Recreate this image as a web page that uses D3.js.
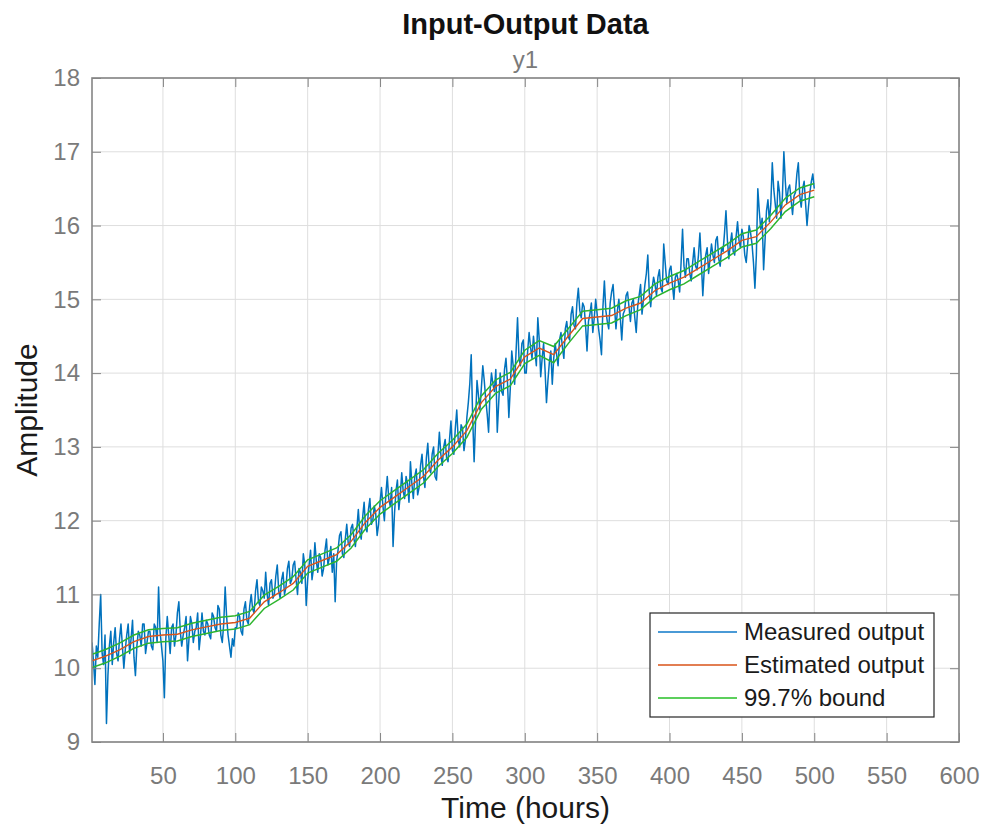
<!DOCTYPE html>
<html>
<head>
<meta charset="utf-8">
<script src="https://cdn.jsdelivr.net/npm/d3@7"></script>
<style>
  html, body { margin: 0; padding: 0; background: #fff; }
  svg { display: block; font-family: "Liberation Sans", Arial, Helvetica, sans-serif; }
</style>
</head>
<body>
<svg id="chart" width="985" height="830"></svg>
<script>
// ---------------- DATA ----------------
const titleText = "Input-Output Data";
const subtitleText = "y1";
const xLabelText = "Time (hours)";
const yLabelText = "Amplitude";
const xTicks = [50, 100, 150, 200, 250, 300, 350, 400, 450, 500, 550, 600];
const yTicks = [9, 10, 11, 12, 13, 14, 15, 16, 17, 18];
const xDomain = [1, 600];
const yDomain = [9, 18];

// Measured output, one sample per hour, t = 1 ... 500
const measuredStart = 1;
const measuredStep = 1;
const measured = [
  10.35, 10.1, 9.78, 10.3, 10.15, 10.6, 11.0, 10.2, 10.05, 10.45, 9.25, 9.9, 10.3, 10.5, 10.05, 10.35, 10.55, 10.2, 10.1, 10.4,
  10.6, 10.3, 10.0, 10.25, 10.45, 10.6, 10.2, 10.4, 10.65, 10.15, 9.9, 10.3, 10.5, 10.45, 10.3, 10.6, 10.6, 10.2, 10.35, 10.5,
  10.5, 10.3, 10.25, 10.6, 10.55, 10.35, 11.1, 10.5, 10.3, 10.1, 9.6, 10.4, 10.7, 10.45, 10.2, 10.55, 10.6, 10.3, 10.45, 10.75,
  10.9, 10.5, 10.3, 10.45, 10.55, 10.7, 10.1, 10.4, 10.7, 10.6, 10.35, 10.5, 10.55, 10.75, 10.25, 10.45, 10.75, 10.5, 10.45, 10.65,
  10.6, 10.45, 10.4, 10.75, 10.7, 10.55, 10.5, 10.85, 10.8, 10.45, 10.35, 10.6, 11.1, 10.7, 10.45, 10.3, 10.15, 10.4, 10.3, 10.55,
  10.55, 10.75, 10.7, 10.5, 10.45, 10.8, 10.9, 10.65, 10.6, 10.85, 11.0, 10.8, 10.75, 11.05, 11.2, 10.9, 10.85, 11.1, 11.05, 10.95,
  11.3, 11.0, 10.85, 11.15, 11.2, 10.95, 11.0, 11.25, 11.4, 11.05, 10.95, 11.2, 11.3, 11.0, 11.1, 11.35, 11.45, 11.15, 11.2, 11.4,
  11.45, 11.2, 11.0, 11.35, 11.3, 11.15, 11.55, 11.4, 10.85, 11.2, 11.4, 11.6, 11.2, 11.35, 11.7, 11.45, 11.3, 11.55, 11.5, 11.25,
  11.35, 11.6, 11.75, 11.4, 11.5, 11.65, 11.3, 11.55, 10.9, 11.45, 11.6, 11.8, 11.85, 11.55, 11.5, 11.75, 11.95, 11.7, 11.65, 11.9,
  11.95, 11.75, 11.65, 11.9, 12.15, 11.85, 11.75, 12.05, 12.25, 11.9, 11.85, 12.15, 12.3, 11.95, 12.0, 12.2, 12.1, 11.8, 11.95, 12.25,
  12.45, 12.2, 12.0, 12.35, 12.6, 12.3, 12.2, 12.45, 11.65, 12.1, 12.4, 12.55, 12.15, 12.35, 12.65, 12.4, 12.3, 12.6, 12.5, 12.25,
  12.8, 12.5, 12.3, 12.6, 12.7, 12.35, 12.45, 12.75, 12.9, 12.6, 12.45, 12.85, 13.05, 12.7, 12.65, 12.9, 13.0, 12.6, 12.55, 12.9,
  13.2, 12.9, 12.75, 13.0, 13.1, 12.85, 12.8, 13.1, 13.35, 12.95, 12.9, 13.25, 13.5, 13.1, 13.0, 13.3, 13.25, 12.95, 13.1, 13.4,
  13.6, 13.85, 14.25, 13.4, 12.8, 13.35, 13.9, 13.7, 13.5, 13.8, 14.1, 13.9, 13.65, 13.45, 13.2, 13.75, 14.0, 13.85, 13.75, 14.05,
  13.2, 13.6, 14.0, 13.75, 13.7, 14.05, 14.2, 13.9, 13.4, 13.8, 14.3, 14.1, 13.85, 14.3, 14.75, 14.2, 14.1, 14.4, 14.45, 14.0,
  14.0, 14.3, 14.55, 14.35, 14.2, 14.5, 14.3, 14.1, 14.75, 14.45, 13.95, 14.2, 14.4, 14.05, 13.6, 13.9, 14.15, 14.3, 13.85, 14.2,
  14.4, 14.25, 14.1, 14.45, 14.55, 14.35, 14.2, 14.6, 14.7, 14.5, 14.45, 14.8, 14.9, 14.65, 14.6, 14.95, 15.15, 14.85, 14.75, 14.95,
  14.9, 14.65, 14.3, 14.7, 14.8, 14.95, 14.55, 14.75, 15.0, 14.8, 14.6, 14.45, 14.25, 14.9, 15.25, 14.85, 14.7, 14.6, 14.95, 15.1,
  15.2, 14.9, 14.6, 14.85, 15.0, 14.75, 14.45, 14.8, 14.85, 15.05, 15.1, 14.9, 14.7, 14.95, 15.0, 14.75, 14.55, 14.9, 15.05, 15.2,
  14.8, 15.0, 15.2, 15.35, 15.6, 15.1, 14.9, 15.15, 15.3, 15.2, 15.05, 15.3, 15.4, 15.15, 15.1, 15.75, 15.5, 15.25, 15.2, 15.4,
  15.45, 15.2, 15.0, 15.3, 15.35, 15.25, 15.1, 15.5, 15.95, 15.45, 15.3, 15.55, 15.55, 15.35, 15.25, 15.5, 15.7, 15.45, 15.4, 15.6,
  15.9, 15.5, 15.05, 15.4, 15.6, 15.7, 15.35, 15.55, 15.75, 15.6, 15.5, 15.8, 15.85, 15.55, 15.45, 15.7, 15.65, 15.9, 16.2, 15.8,
  15.55, 15.75, 15.9, 15.65, 15.6, 15.85, 16.05, 15.8, 15.7, 15.95, 15.85, 15.6, 15.5, 15.75, 16.0, 15.9, 15.75, 15.5, 15.15, 15.6,
  16.5, 16.2, 15.95, 16.1, 15.4, 15.8, 16.2, 16.35, 16.05, 16.3, 16.85, 16.5, 16.3, 16.1, 16.6, 16.45, 16.1, 16.4, 17.0, 16.6,
  16.3, 16.5, 16.55, 16.35, 16.15, 16.4, 16.45, 16.7, 16.85, 16.4, 16.25, 16.5, 16.6, 16.3, 16.0, 16.25, 16.45, 16.6, 16.7, 16.5
];

// Estimated output and 99.7% bounds
const estTimes = [1, 10, 20, 30, 40, 50, 60, 70, 80, 90, 100, 110, 120, 130, 140, 150, 160, 170, 180, 190,
  200, 210, 220, 230, 240, 250, 260, 270, 280, 290, 300, 310, 320, 330, 340, 350, 360, 370, 380, 390,
  400, 410, 420, 430, 440, 450, 460, 470, 480, 490, 500];
const estimated = [10.10, 10.16, 10.25, 10.36, 10.43, 10.45, 10.46, 10.52, 10.56, 10.60, 10.62, 10.68, 10.90, 11.02, 11.15, 11.38, 11.46, 11.54, 11.72, 11.98,
  12.18, 12.32, 12.46, 12.60, 12.82, 13.00, 13.22, 13.60, 13.82, 13.92, 14.22, 14.34, 14.25, 14.50, 14.74, 14.76, 14.78, 14.88, 14.95, 15.12,
  15.22, 15.30, 15.42, 15.54, 15.66, 15.80, 15.85, 16.05, 16.28, 16.42, 16.48];
const upperBound = [10.19, 10.25, 10.34, 10.45, 10.52, 10.54, 10.55, 10.61, 10.65, 10.69, 10.71, 10.77, 10.99, 11.11, 11.24, 11.47, 11.55, 11.63, 11.81, 12.07,
  12.27, 12.41, 12.55, 12.69, 12.91, 13.09, 13.31, 13.69, 13.91, 14.01, 14.31, 14.44, 14.36, 14.60, 14.84, 14.86, 14.88, 14.98, 15.04, 15.21,
  15.31, 15.39, 15.51, 15.63, 15.75, 15.89, 15.94, 16.14, 16.37, 16.51, 16.57];
const lowerBound = [10.01, 10.07, 10.16, 10.27, 10.34, 10.36, 10.37, 10.43, 10.47, 10.51, 10.53, 10.59, 10.81, 10.93, 11.06, 11.29, 11.37, 11.45, 11.63, 11.89,
  12.09, 12.23, 12.37, 12.51, 12.73, 12.91, 13.13, 13.51, 13.73, 13.83, 14.13, 14.24, 14.14, 14.40, 14.64, 14.66, 14.68, 14.78, 14.86, 15.03,
  15.13, 15.21, 15.33, 15.45, 15.57, 15.71, 15.76, 15.96, 16.19, 16.33, 16.39];

const legendLabels = ["Measured output", "Estimated output", "99.7% bound"];
const colors = { measured: "#0072BD", estimated: "#D95319", bound: "#2DB52D" };

// ---------------- DRAW ----------------
const svg = d3.select("#chart");
const plot = { left: 92, right: 959, top: 78, bottom: 742 };
const x = d3.scaleLinear().domain(xDomain).range([plot.left, plot.right]);
const y = d3.scaleLinear().domain(yDomain).range([plot.bottom, plot.top]);

const axisGray = "#858585";
const labelGray = "#7a7a7a";

// grid
const grid = svg.append("g");
grid.selectAll("line.gx").data(xTicks).join("line")
  .attr("x1", d => x(d)).attr("x2", d => x(d))
  .attr("y1", plot.top).attr("y2", plot.bottom)
  .attr("stroke", "#dedede").attr("stroke-width", 1);
grid.selectAll("line.gy").data(yTicks).join("line")
  .attr("x1", plot.left).attr("x2", plot.right)
  .attr("y1", d => y(d)).attr("y2", d => y(d))
  .attr("stroke", "#dedede").attr("stroke-width", 1);

// clip
svg.append("clipPath").attr("id", "clip").append("rect")
  .attr("x", plot.left).attr("y", plot.top)
  .attr("width", plot.right - plot.left).attr("height", plot.bottom - plot.top);

const dataG = svg.append("g").attr("clip-path", "url(#clip)");

const measuredPts = measured.map((v, i) => [measuredStart + i * measuredStep, v]);
const line = d3.line().x(d => x(d[0])).y(d => y(d[1]));

dataG.append("path").datum(measuredPts)
  .attr("fill", "none").attr("stroke", colors.measured).attr("stroke-width", 1.5)
  .attr("stroke-linejoin", "round").attr("d", line);

dataG.append("path").datum(estTimes.map((t, i) => [t, upperBound[i]]))
  .attr("fill", "none").attr("stroke", colors.bound).attr("stroke-width", 1.5).attr("d", line);
dataG.append("path").datum(estTimes.map((t, i) => [t, lowerBound[i]]))
  .attr("fill", "none").attr("stroke", colors.bound).attr("stroke-width", 1.5).attr("d", line);
dataG.append("path").datum(estTimes.map((t, i) => [t, estimated[i]]))
  .attr("fill", "none").attr("stroke", colors.estimated).attr("stroke-width", 1.4).attr("d", line);

// axes (d3 axes with inner ticks)
const tickLen = 9;
const bottomAxis = d3.axisBottom(x).tickValues(xTicks).tickSize(-tickLen).tickPadding(25).tickFormat(d3.format("d"));
const topAxis = d3.axisTop(x).tickValues(xTicks).tickSize(-tickLen).tickFormat("");
const leftAxis = d3.axisLeft(y).tickValues(yTicks).tickSize(-tickLen).tickPadding(12).tickFormat(d3.format("d"));
const rightAxis = d3.axisRight(y).tickValues(yTicks).tickSize(-tickLen).tickFormat("");

function styleAxis(g) {
  g.select(".domain").remove();
  g.selectAll(".tick line").attr("stroke", axisGray).attr("stroke-width", 1);
  g.selectAll(".tick text").attr("fill", labelGray)
    .style("font-family", "'Liberation Sans', Arial, sans-serif").style("font-size", "24px");
}
svg.append("g").attr("transform", `translate(0,${plot.bottom})`).call(bottomAxis).call(styleAxis);
svg.append("g").attr("transform", `translate(0,${plot.top})`).call(topAxis).call(styleAxis);
svg.append("g").attr("transform", `translate(${plot.left},0)`).call(leftAxis).call(styleAxis);
svg.append("g").attr("transform", `translate(${plot.right},0)`).call(rightAxis).call(styleAxis);

// box
svg.append("rect").attr("x", plot.left).attr("y", plot.top)
  .attr("width", plot.right - plot.left).attr("height", plot.bottom - plot.top)
  .attr("fill", "none").attr("stroke", axisGray).attr("stroke-width", 1.6);

// titles
const cx = (plot.left + plot.right) / 2;
svg.append("text").attr("x", cx).attr("y", 34).attr("text-anchor", "middle")
  .attr("font-size", 29).attr("font-weight", "bold").attr("fill", "#111").text(titleText);
svg.append("text").attr("x", cx).attr("y", 68).attr("text-anchor", "middle")
  .attr("font-size", 24).attr("fill", labelGray).text(subtitleText);
svg.append("text").attr("x", cx).attr("y", 818).attr("text-anchor", "middle")
  .attr("font-size", 30).attr("fill", "#1a1a1a").text(xLabelText);
svg.append("text").attr("transform", `translate(37,${(plot.top + plot.bottom) / 2}) rotate(-90)`)
  .attr("text-anchor", "middle")
  .attr("font-size", 30).attr("fill", "#1a1a1a").text(yLabelText);

// legend
const lg = { x: 650, y: 613, w: 284, h: 104 };
const leg = svg.append("g");
leg.append("rect").attr("x", lg.x).attr("y", lg.y).attr("width", lg.w).attr("height", lg.h)
  .attr("fill", "#fff").attr("stroke", "#262626").attr("stroke-width", 1.2);
const legStroke = ["#4a9ad6", colors.estimated, "#5ccf5c"];
const legWidths = [2, 1.4, 2];
const rowY = [632, 665, 698];
legendLabels.forEach((lab, i) => {
  leg.append("line").attr("x1", 658).attr("x2", 737).attr("y1", rowY[i]).attr("y2", rowY[i])
    .attr("stroke", legStroke[i]).attr("stroke-width", legWidths[i]);
  leg.append("text").attr("x", 744).attr("y", rowY[i]).attr("dy", "0.35em")
    .attr("font-size", 24).attr("fill", "#1a1a1a").text(lab);
});
</script>
</body>
</html>
